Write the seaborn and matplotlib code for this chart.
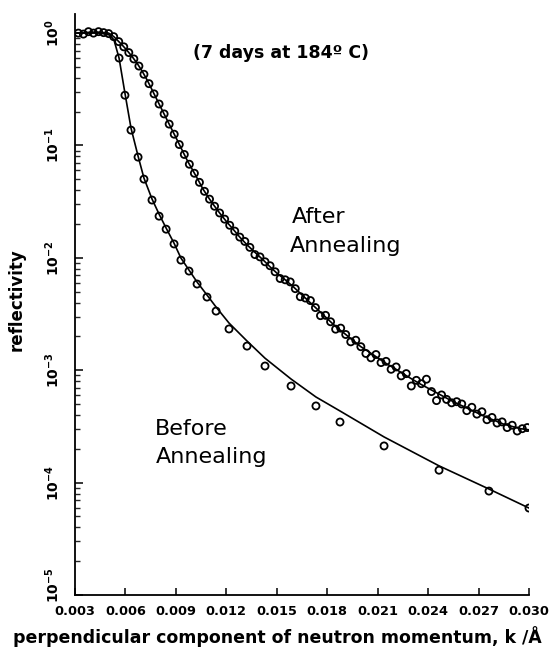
import numpy as np
import pandas as pd
import matplotlib
matplotlib.use("Agg")
import matplotlib.pyplot as plt
import matplotlib.transforms as mtransforms
import seaborn as sns

# ---------------- data ----------------
# "Before Annealing" measured points
k_before = [0.00562, 0.00597, 0.00633, 0.00675, 0.00710, 0.00758, 0.00800, 0.00842,
            0.00889, 0.00930, 0.00978, 0.01026, 0.01085, 0.01139, 0.01216, 0.01323,
            0.01430, 0.01585, 0.01733, 0.01876, 0.02138, 0.02465, 0.02762, 0.03000]
r_before = [0.60, 0.28, 0.137, 0.0788, 0.0502, 0.0327, 0.0235, 0.0180,
            0.0133, 0.00955, 0.00763, 0.00585, 0.00448, 0.00336, 0.00233, 0.00164,
            0.00109, 0.000723, 0.000481, 0.000346, 0.000212, 0.000129, 0.0000841, 0.0000594]

# "Before Annealing" fitted curve
k_before_fit = [0.00312, 0.00449, 0.00508, 0.00532, 0.00562, 0.00597, 0.00633, 0.00675,
                0.00710, 0.00758, 0.00800, 0.00842, 0.00889, 0.00930, 0.00978, 0.01026,
                0.01085, 0.01139, 0.01216, 0.01323, 0.01430, 0.01585, 0.01733, 0.01876,
                0.02138, 0.02465, 0.02762, 0.03000]
r_before_fit = [1.0, 1.0, 0.96, 0.867, 0.60, 0.292, 0.143, 0.0805,
                0.0513, 0.0334, 0.0245, 0.0184, 0.0135, 0.00996, 0.00778, 0.00609,
                0.00467, 0.00365, 0.00263, 0.00182, 0.00128, 0.000835, 0.000578, 0.000434,
                0.000255, 0.000141, 0.0000877, 0.0000594]

# "After Annealing" measured points
k_after = [0.0032, 0.0035, 0.0038, 0.0041, 0.0044, 0.0047, 0.0050, 0.0053, 0.0056, 0.0059,
           0.0062, 0.0065, 0.0068, 0.0071, 0.0074, 0.0077, 0.0080, 0.0083, 0.0086, 0.0089,
           0.0092, 0.0095, 0.0098, 0.0101, 0.0104, 0.0107, 0.0110, 0.0113, 0.0116, 0.0119,
           0.0122, 0.0125, 0.0128, 0.0131, 0.0134, 0.0137, 0.0140, 0.0143, 0.0146, 0.0149,
           0.0152, 0.0155, 0.0158, 0.0161, 0.0164, 0.0167, 0.0170, 0.0173, 0.0176, 0.0179,
           0.0182, 0.0185, 0.0188, 0.0191, 0.0194, 0.0197, 0.0200, 0.0203, 0.0206, 0.0209,
           0.0212, 0.0215, 0.0218, 0.0221, 0.0224, 0.0227, 0.0230, 0.0233, 0.0236, 0.0239,
           0.0242, 0.0245, 0.0248, 0.0251, 0.0254, 0.0257, 0.0260, 0.0263, 0.0266, 0.0269,
           0.0272, 0.0275, 0.0278, 0.0281, 0.0284, 0.0287, 0.0290, 0.0293, 0.0296, 0.0299]
r_after = [1.00, 0.98, 1.03, 1.00, 1.03, 1.01, 0.99, 0.93, 0.84, 0.755,
           0.671, 0.589, 0.509, 0.430, 0.355, 0.288, 0.234, 0.191, 0.155, 0.126,
           0.102, 0.0832, 0.0681, 0.0566, 0.0470, 0.0391, 0.0333, 0.0288, 0.0251, 0.0221,
           0.0195, 0.0173, 0.0153, 0.0140, 0.0124, 0.0107, 0.0102, 0.00923, 0.00851, 0.00752,
           0.00655, 0.00638, 0.00611, 0.00532, 0.00451, 0.00439, 0.00417, 0.00361, 0.00306, 0.00308,
           0.00270, 0.00232, 0.00237, 0.00208, 0.00179, 0.00185, 0.00162, 0.00141, 0.00129, 0.00138,
           0.00117, 0.00120, 0.00102, 0.00107, 0.000891, 0.000933, 0.000724, 0.000813, 0.000759, 0.000832,
           0.000646, 0.000537, 0.000603, 0.000550, 0.000513, 0.000525, 0.000501, 0.000437, 0.000468, 0.000407,
           0.000427, 0.000363, 0.000380, 0.000339, 0.000347, 0.000309, 0.000324, 0.000288, 0.000302, 0.000309]

# "After Annealing" fitted curve
k_after_fit = [0.0031, 0.0040, 0.0045, 0.0050, 0.0053, 0.0055, 0.0058, 0.0061, 0.0064, 0.0067,
               0.0070, 0.0073, 0.0076, 0.0079, 0.0082, 0.0085, 0.0088, 0.0091, 0.0094, 0.0097,
               0.0100, 0.0103, 0.0106, 0.0109, 0.0112, 0.0116, 0.0120, 0.0124, 0.0128, 0.0132,
               0.0137, 0.0142, 0.0146, 0.0150, 0.0155, 0.0160, 0.0165, 0.0170, 0.0175, 0.0180,
               0.0185, 0.0190, 0.0195, 0.0200, 0.0205, 0.0210, 0.0215, 0.0220, 0.0225, 0.0230,
               0.0235, 0.0240, 0.0245, 0.0250, 0.0255, 0.0260, 0.0265, 0.0270, 0.0275, 0.0280,
               0.0285, 0.0290, 0.0295, 0.0300]
r_after_fit = [1.00, 1.02, 1.02, 1.00, 0.933, 0.871, 0.785, 0.700, 0.617, 0.537,
               0.457, 0.380, 0.309, 0.251, 0.204, 0.166, 0.135, 0.110, 0.0891, 0.0724,
               0.0603, 0.0501, 0.0412, 0.0351, 0.0302, 0.0251, 0.0211, 0.0180, 0.0153, 0.0132,
               0.0112, 0.00955, 0.00832, 0.00733, 0.00638, 0.00550, 0.00468, 0.00398, 0.00339, 0.00288,
               0.00245, 0.00214, 0.00186, 0.00162, 0.00145, 0.00129, 0.00115, 0.00104, 0.000933, 0.000841,
               0.000759, 0.000692, 0.000631, 0.000575, 0.000525, 0.000484, 0.000447, 0.000412, 0.000380, 0.000355,
               0.000331, 0.000316, 0.000302, 0.000295]

x_ticks = [0.003, 0.006, 0.009, 0.012, 0.015, 0.018, 0.021, 0.024, 0.027, 0.030]
x_tick_labels = ["0.003", "0.006", "0.009", "0.012", "0.015", "0.018", "0.021", "0.024", "0.027", "0.030"]
y_ticks = [1e0, 1e-1, 1e-2, 1e-3, 1e-4, 1e-5]
y_tick_labels = [r"$\mathbf{10^{0}}$", r"$\mathbf{10^{-1}}$", r"$\mathbf{10^{-2}}$",
                 r"$\mathbf{10^{-3}}$", r"$\mathbf{10^{-4}}$", r"$\mathbf{10^{-5}}$"]

# ---------------- plot ----------------
sns.set_theme(style="ticks")
plt.rcParams['font.family'] = ['DejaVu Sans']
plt.rcParams['mathtext.fontset'] = 'dejavusans'

W, H = 553, 651
fig = plt.figure(figsize=(W / 100, H / 100), dpi=100)
fig.patch.set_facecolor("white")
ax = fig.add_axes([75 / W, 1 - 595 / H, (529 - 75) / W, (595 - 14) / H])
ax.set_facecolor("white")

df_bf = pd.DataFrame({"k": k_before_fit, "r": r_before_fit})
df_af = pd.DataFrame({"k": k_after_fit, "r": r_after_fit})
df_b = pd.DataFrame({"k": k_before, "r": r_before})
df_a = pd.DataFrame({"k": k_after, "r": r_after})

sns.lineplot(data=df_bf, x="k", y="r", color="black", linewidth=1.2, estimator=None, sort=False, ax=ax)
sns.lineplot(data=df_af, x="k", y="r", color="black", linewidth=1.2, estimator=None, sort=False, ax=ax)
sns.scatterplot(data=df_b, x="k", y="r", marker="o", s=26, color="black", facecolor="none",
                edgecolor="black", linewidth=1.3, ax=ax, zorder=3)
sns.scatterplot(data=df_a, x="k", y="r", marker="o", s=26, color="black", facecolor="none",
                edgecolor="black", linewidth=1.3, ax=ax, zorder=3)

ax.set_yscale("log")
ax.set_xlim(0.003, 0.030)
ax.set_ylim(1e-5, 10 ** 0.17)
ax.set_xticks(x_ticks)
ax.set_xticklabels(x_tick_labels, fontsize=9.3, fontweight="bold")
ax.set_yticks(y_ticks)
ax.set_yticklabels(y_tick_labels, fontsize=10, rotation=90, va="center")
ax.yaxis.set_minor_locator(matplotlib.ticker.LogLocator(base=10, subs=np.arange(2, 10), numticks=20))
ax.yaxis.set_minor_formatter(matplotlib.ticker.NullFormatter())
ax.tick_params(axis="x", which="major", direction="in", length=5, width=1.1, pad=7, colors="black")
ax.tick_params(axis="y", which="major", direction="in", length=6, width=1.1, pad=9, colors="black")
ax.tick_params(axis="y", which="minor", direction="in", length=3.5, width=1.0)

# lift the lowest y label a little, as in the reference
low_lab = ax.get_yticklabels()[-1]
low_lab.set_transform(low_lab.get_transform() +
                      mtransforms.ScaledTranslation(0, 7 / 72, fig.dpi_scale_trans))

for side in ["top", "right"]:
    ax.spines[side].set_visible(False)
for side in ["left", "bottom"]:
    ax.spines[side].set_linewidth(1.3)
    ax.spines[side].set_color("black")

ax.set_xlabel("")
ax.set_ylabel("")


def ftext(x, y, s, **kw):
    fig.text(x / W, 1 - y / H, s, color="black", **kw)


ftext(17, 300, "reflectivity", fontsize=12, fontweight="bold", rotation=90, ha="center", va="center")
ftext(277, 637, "perpendicular component of neutron momentum, k /Å", fontsize=12.5,
      fontweight="bold", ha="center", va="center")
ftext(193, 58, "(7 days at 184º C)", fontsize=12.5, fontweight="bold", ha="left", va="baseline")
ftext(292, 223, "After", fontsize=16, ha="left", va="baseline")
ftext(290, 252, "Annealing", fontsize=16, ha="left", va="baseline")
ftext(155, 435, "Before", fontsize=16, ha="left", va="baseline")
ftext(156, 463, "Annealing", fontsize=16, ha="left", va="baseline")

fig.savefig("out.png", dpi=100, facecolor="white")
